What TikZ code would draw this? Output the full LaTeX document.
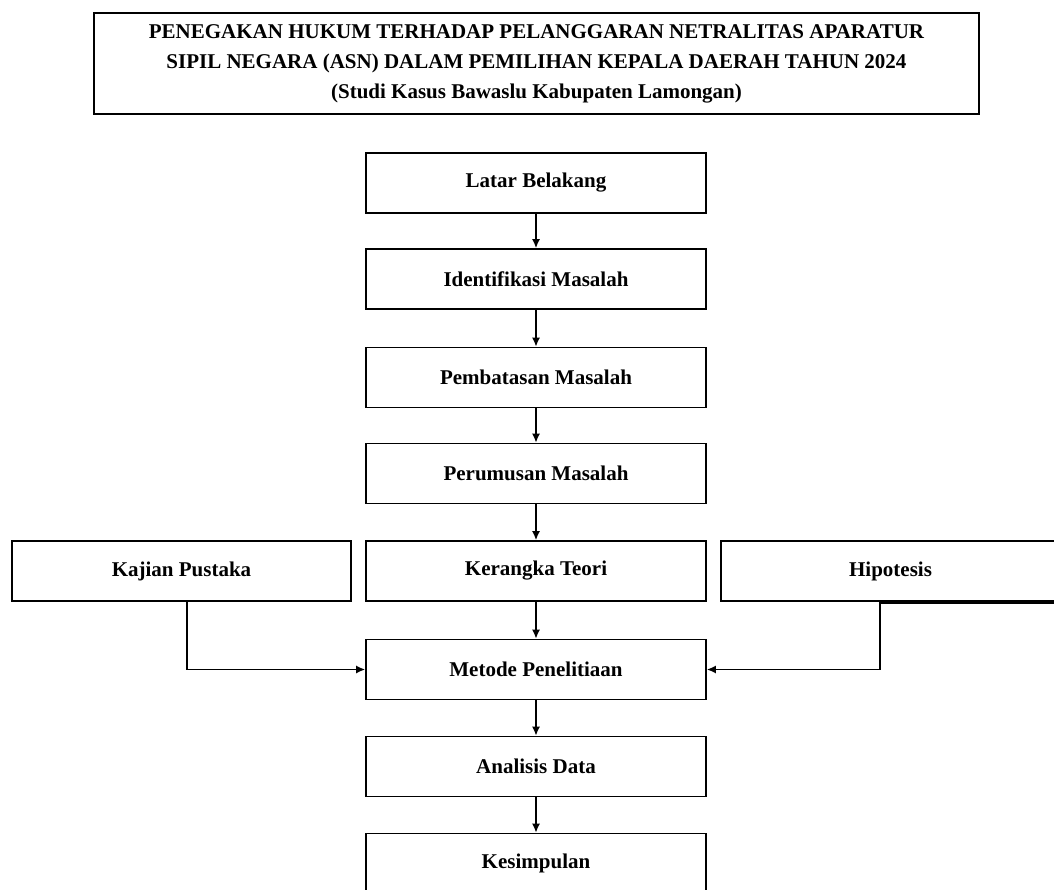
\documentclass[tikz,border=0pt]{standalone}
\usepackage{fontspec}
\setmainfont{Liberation Serif}
\usepackage{tikz}
\usetikzlibrary{arrows.meta}

\begin{document}
\begin{tikzpicture}[x=1pt, y={(0pt,-1pt)},
    every node/.style={font=\fontsize{21}{30}\selectfont\bfseries, align=center},
    kotak/.style={draw, line width=1.6pt, minimum width=340pt, minimum height=60pt, inner sep=0pt},
    panah/.style={-{Latex[length=9pt, width=8pt]}, line width=1.6pt}]
            \path[use as bounding box, fill=white] (0,0) rectangle (1054,890);
            \node[draw, line width=1.6pt, minimum width=885pt, minimum height=101pt, inner sep=0pt] (judul) at (536.5,63.5)
                {PENEGAKAN HUKUM TERHADAP PELANGGARAN NETRALITAS APARATUR\\
                 SIPIL NEGARA (ASN) DALAM PEMILIHAN KEPALA DAERAH TAHUN 2024\\
                 (Studi Kasus Bawaslu Kabupaten Lamongan)};
            \node[kotak] (latar) at (536,183) {Latar Belakang};
            \node[kotak] (identifikasi) at (536,279) {Identifikasi Masalah};
            \node[kotak] (pembatasan) at (536,377.5) {Pembatasan Masalah};
            \node[kotak] (perumusan) at (536,473.5) {Perumusan Masalah};
            \node[kotak] (kerangka) at (536,571) {Kerangka Teori};
            \node[kotak, minimum width=339pt] (kajian) at (181.5,571) {Kajian Pustaka};
            \node[kotak, minimum width=339pt] (hipotesis) at (890.5,571) {Hipotesis};
            \node[kotak] (metode) at (536,669.5) {Metode Penelitiaan};
            \node[kotak] (analisis) at (536,766.5) {Analisis Data};
            \node[kotak] (kesimpulan) at (536,863.5) {Kesimpulan};
            \draw[line width=3.5pt] ([xshift=-10.5pt]hipotesis.south) -- (hipotesis.south east);
            \draw[panah] (latar) -- (identifikasi);
            \draw[panah] (identifikasi) -- (pembatasan);
            \draw[panah] (pembatasan) -- (perumusan);
            \draw[panah] (perumusan) -- (kerangka);
            \draw[panah] (kerangka) -- (metode);
            \draw[panah] (metode) -- (analisis);
            \draw[panah] (analisis) -- (kesimpulan);
            \draw[panah] ([xshift=5.5pt]kajian.south) |- (metode.west);
            \draw[panah] ([xshift=-10.5pt]hipotesis.south) |- (metode.east);
        \end{tikzpicture}
\end{document}
